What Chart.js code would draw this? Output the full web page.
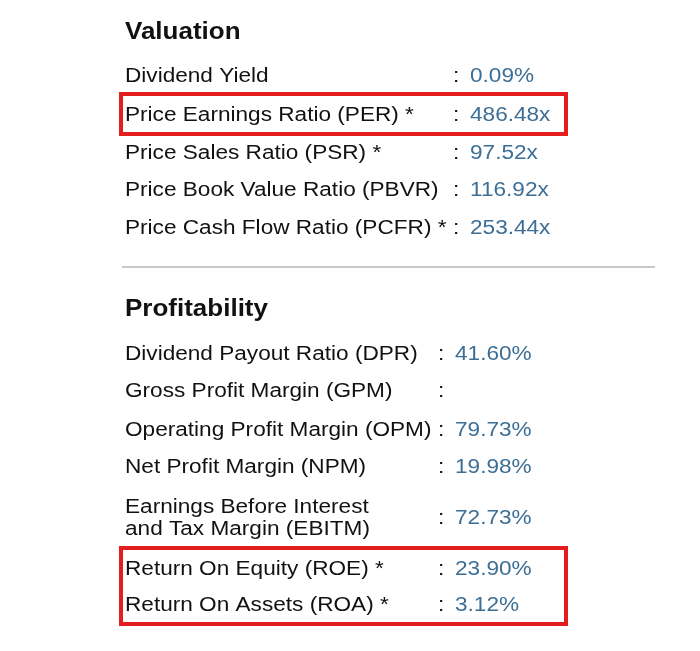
<!DOCTYPE html>
<html><head><meta charset="utf-8">
<script src="https://cdn.jsdelivr.net/npm/chart.js@4"></script>
<style>html,body{margin:0;padding:0;background:#fff}#wrap{width:700px;height:651px}</style>
</head><body><div id="wrap"><canvas id="c"></canvas></div>
<script>
const valuationLabels = ["Dividend Yield","Price Earnings Ratio (PER) *","Price Sales Ratio (PSR) *","Price Book Value Ratio (PBVR)","Price Cash Flow Ratio (PCFR) *"];
const valuationValues = ["0.09%","486.48x","97.52x","116.92x","253.44x"];
const profitLabels = ["Dividend Payout Ratio (DPR)","Gross Profit Margin (GPM)","Operating Profit Margin (OPM)","Net Profit Margin (NPM)","Earnings Before Interest\nand Tax Margin (EBITM)","Return On Equity (ROE) *","Return On Assets (ROA) *"];
const profitValues = ["41.60%","","79.73%","19.98%","72.73%","23.90%","3.12%"];
const highlighted = ["Price Earnings Ratio (PER) *","Return On Equity (ROE) *","Return On Assets (ROA) *"];

// layout
const valRowsY = [76,115,153,190,228];
const profRowsY = [354,391,430,467,518,569,605];

const tablePlugin = {
  id:'table',
  afterDraw(chart){
    const ctx = chart.ctx, ys = chart.scales.y, xs = chart.scales.x;
    const X = v=>xs.getPixelForValue(v), Y = v=>ys.getPixelForValue(v);
    const txt=(s,x,y)=>{ctx.save();ctx.translate(X(x),Y(y));ctx.scale(1.13,1);ctx.fillText(s,0,0);ctx.restore();};
    ctx.save();
    ctx.textBaseline='middle';
    ctx.fillStyle='#111';
    ctx.font='bold 23px "Liberation Sans", Arial, sans-serif';
    txt('Valuation',125,33);
    txt('Profitability',125,310);
    ctx.strokeStyle='#c8c8c8'; ctx.lineWidth=2;
    ctx.beginPath(); ctx.moveTo(X(122),Y(267)); ctx.lineTo(X(655),Y(267)); ctx.stroke();
    const drawRows=(labels,values,rows,colonX,valX)=>{
      labels.forEach((l,i)=>{
        const y=rows[i];
        ctx.font='20px "Liberation Sans", Arial, sans-serif';
        ctx.fillStyle='#111';
        const parts=l.split('\n');
        if(parts.length>1){ txt(parts[0],125,y-11); txt(parts[1],125,y+11); }
        else txt(l,125,y);
        txt(':',colonX,y);
        ctx.fillStyle='#3d6f96';
        txt(values[i],valX,y);
      });
    };
    drawRows(valuationLabels,valuationValues,valRowsY,453,470);
    drawRows(profitLabels,profitValues,profRowsY,438,455);
    ctx.strokeStyle='#e41e1e'; ctx.lineWidth=4;
    const all=[...valuationLabels.map((l,i)=>[l,valRowsY[i]]),...profitLabels.map((l,i)=>[l,profRowsY[i]])];
    const hy=all.filter(a=>highlighted.includes(a[0])).map(a=>a[1]);
    const groups=[]; hy.forEach(y=>{const g=groups[groups.length-1]; if(g&&y-g[1]<45) g[1]=y; else groups.push([y,y]);});
    groups.forEach(g=>{ ctx.strokeRect(X(121),Y(g[0]-21),X(566)-X(121),Y(g[1]+19)-Y(g[0]-21)); });
    ctx.restore();
  }
};
new Chart(document.getElementById('c'),{
  type:'scatter',
  data:{datasets:[{data:[]}]},
  options:{
    responsive:true, maintainAspectRatio:false, animation:false,
    layout:{padding:0},
    plugins:{legend:{display:false},tooltip:{enabled:false}},
    scales:{
      x:{type:'linear',min:0,max:700,display:false},
      y:{type:'linear',min:0,max:651,reverse:true,display:false}
    }
  },
  plugins:[tablePlugin]
});
</script></body></html>
